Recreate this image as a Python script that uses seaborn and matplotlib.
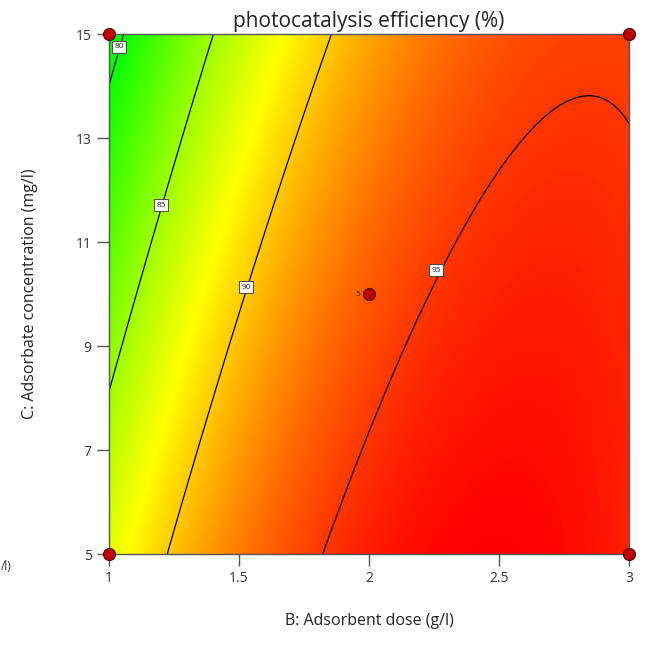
import numpy as np
import pandas as pd
import matplotlib
matplotlib.use("Agg")
import matplotlib.pyplot as plt
from matplotlib.colors import LinearSegmentedColormap
import seaborn as sns

# ---- data ----
title = "photocatalysis efficiency (%)"
x_label = "B: Adsorbent dose (g/l)"
y_label = "C: Adsorbate concentration (mg/l)"
stray_label = "/l)"
x_ticks = [1, 1.5, 2, 2.5, 3]
x_tick_labels = ["1", "1.5", "2", "2.5", "3"]
y_ticks = [5, 7, 9, 11, 13, 15]
y_tick_labels = ["5", "7", "9", "11", "13", "15"]
# quadratic response-surface model: b0 + bB*B + bC*C + bBC*B*C + bBB*B^2 + bCC*C^2
model_coef = [75.0922, 19.8256, -0.94674, 0.35646, -4.34846, -0.01169]
contour_levels = [80, 85, 90, 95]
label_B = [1.038, 1.20, 1.527, 2.258]
label_C = [14.75, 11.71, 10.13, 10.46]
design_B = [1, 3, 1, 3, 2]
design_C = [15, 15, 5, 5, 10]
center_B, center_C, center_runs = 2, 10, "5"
color_low, color_mid, color_high = 79.7, 88.2, 96.9

# ---- plot ----
sns.set_theme(style="white")
plt.rcParams["font.family"] = ["Open Sans", "DejaVu Sans"]

fig = plt.figure(figsize=(6.47, 6.46), dpi=100)
ax = fig.add_axes([109/647, 1-554/646, 520/647, 520/646])

g_B = np.linspace(1, 3, 401)
g_C = np.linspace(5, 15, 401)
GB, GC = np.meshgrid(g_B, g_C)
b0, bB, bC, bBC, bBB, bCC = model_coef
Z = b0 + bB*GB + bC*GC + bBC*GB*GC + bBB*GB**2 + bCC*GC**2

mid = (color_mid - color_low) / (color_high - color_low)
cmap = LinearSegmentedColormap.from_list(
    "de", [(0, "#00ff00"), (mid, "#ffff00"), (1, "#ff0000")])
ax.imshow(Z, origin="lower", extent=[1, 3, 5, 15], aspect="auto",
          cmap=cmap, vmin=color_low, vmax=color_high, interpolation="bilinear")
cs = ax.contour(GB, GC, Z, levels=contour_levels, colors="black", linewidths=0.9)
labels = ax.clabel(cs, fmt="%d", fontsize=6, inline=False,
                   manual=list(zip(label_B, label_C)))
for t, bx, cy in zip(labels, label_B, label_C):
    t.set_rotation(0)
    t.set_position((bx, cy))
    t.set_bbox(dict(boxstyle="square,pad=0.3", fc="white", ec="#333333", lw=0.6))
    t.set_color("#222222")
    t.set_zorder(8)

pts = pd.DataFrame({"B": design_B, "C": design_C})
sns.scatterplot(data=pts, x="B", y="C", ax=ax, s=75, color="#c00000",
                edgecolor="#4a0000", linewidth=0.8, clip_on=False, zorder=10)
ax.text(center_B - 0.035, center_C, center_runs, fontsize=6, color="#222222",
        ha="right", va="center")

ax.set_xlim(1, 3)
ax.set_ylim(5, 15)
ax.set_xticks(x_ticks)
ax.set_xticklabels(x_tick_labels)
ax.set_yticks(y_ticks)
ax.set_yticklabels(y_tick_labels)
ax.tick_params(axis="both", direction="out", length=8.5, width=1, color="#555555",
               labelsize=10, labelcolor="#333333", pad=4,
               bottom=True, left=True)
for s in ax.spines.values():
    s.set_color("#555555")
    s.set_linewidth(1)
ax.set_xlabel(x_label, fontsize=11.5, color="#222222", labelpad=19)
ax.set_ylabel(y_label, fontsize=11.5, color="#222222", labelpad=27)
ax.set_title(title, fontsize=15, color="#222222", pad=5)

fig.text(0.5/647, 1-567/646, stray_label, fontsize=8.5, color="#333333",
         ha="left", va="center")

fig.savefig("out.png", dpi=100)
